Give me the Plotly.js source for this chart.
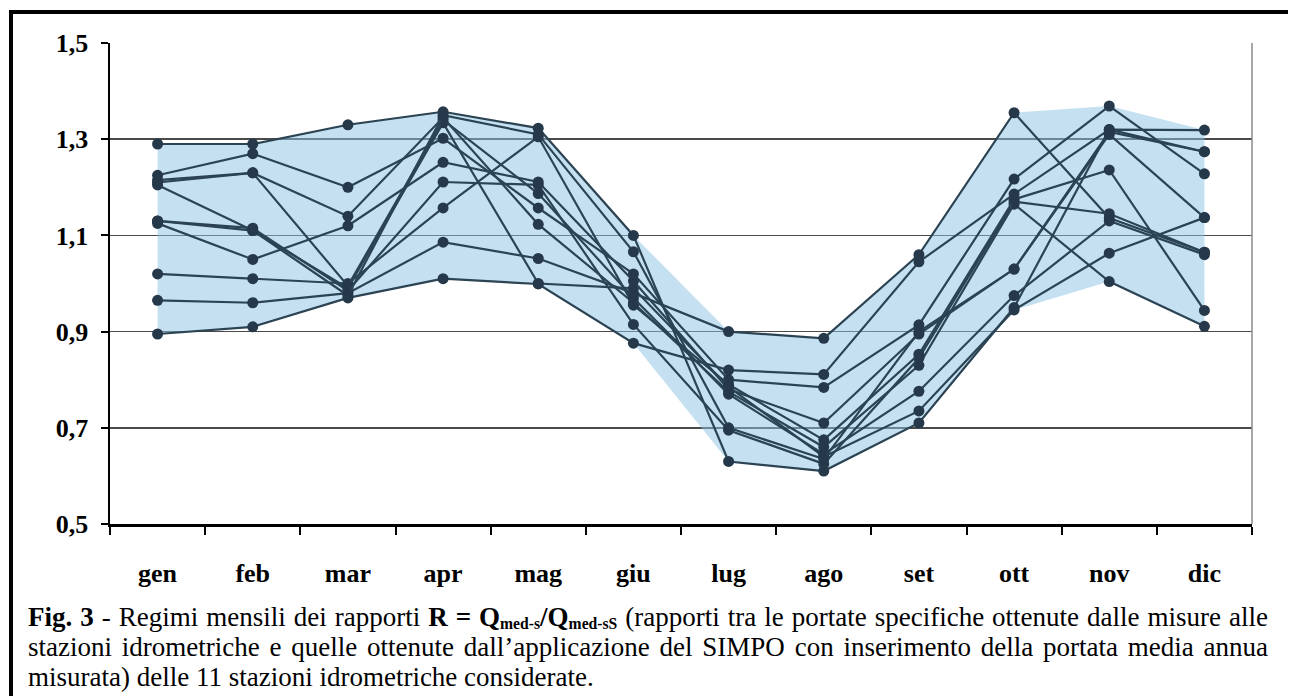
<!DOCTYPE html>
<html><head><meta charset="utf-8">
<script src="https://cdn.plot.ly/plotly-3.0.1.min.js"></script>
<style>
body{margin:0;background:#fff;width:1290px;height:696px;overflow:hidden;position:relative;font-family:"Liberation Serif","Times New Roman",serif;}
#chart{position:absolute;left:0;top:0;width:1290px;height:696px;}
#frame{position:absolute;left:9px;top:10px;width:1275px;height:700px;border-left:4px solid #000;border-top:4px solid #000;pointer-events:none;}
#cap{position:absolute;left:28px;top:602px;width:1240px;font-size:27px;line-height:30px;color:#000;}
#cap div{white-space:nowrap;}
#cap .j{text-align:justify;text-align-last:justify;}
sub{font-size:0.58em;line-height:0;vertical-align:-0.18em;}
</style></head><body>
<div id="chart"></div>
<div id="frame"></div>
<div id="cap">
<div class="j"><b>Fig. 3</b> - Regimi mensili dei rapporti <b>R = Q<sub>med-s</sub>/Q<sub>med-sS</sub></b> (rapporti tra le portate specifiche ottenute dalle misure alle</div>
<div class="j">stazioni idrometriche e quelle ottenute dall’applicazione del SIMPO con inserimento della portata media annua</div>
<div>misurata) delle 11 stazioni idrometriche considerate.</div>
</div>
<script>
const months = ['gen','feb','mar','apr','mag','giu','lug','ago','set','ott','nov','dic'];
const yTicks = [0.5,0.7,0.9,1.1,1.3,1.5];
const s1  = [1.290,1.290,1.330,1.357,1.323,1.100,0.630,0.610,0.710,0.950,1.320,1.274];
const s2  = [1.225,1.270,1.200,1.302,1.157,1.020,0.800,0.784,0.914,1.217,1.369,1.228];
const s3  = [1.215,1.230,1.140,1.345,1.123,0.960,0.775,0.660,0.830,1.165,1.004,0.911];
const s4  = [1.205,1.110,0.990,1.334,1.000,0.990,0.785,0.640,0.735,0.945,1.063,1.137];
const s5  = [1.130,1.115,0.985,1.211,1.205,0.915,0.695,0.625,0.845,1.170,1.145,1.065];
const s6  = [1.125,1.050,1.120,1.252,1.211,1.005,0.780,0.710,0.895,1.030,1.315,1.274];
const s7  = [1.020,1.010,1.000,1.157,1.305,0.955,0.790,0.675,0.853,1.175,1.236,0.944];
const s8  = [0.965,0.960,0.980,1.086,1.052,0.980,0.900,0.886,1.060,1.355,1.136,1.065];
const s9  = [0.895,0.910,0.970,1.010,0.999,0.876,0.820,0.811,1.045,1.186,1.320,1.319];
const s10 = [1.210,1.230,0.995,1.340,1.187,0.970,0.770,0.645,0.776,0.975,1.130,1.060];
const s11 = [1.130,1.110,0.975,1.350,1.310,1.066,0.700,0.635,0.900,1.030,1.310,1.137];
const series = [s1,s2,s3,s4,s5,s6,s7,s8,s9,s10,s11];

const minEnv = months.map((m,i)=>Math.min(...series.map(s=>s[i])));
const maxEnv = months.map((m,i)=>Math.max(...series.map(s=>s[i])));

const traces = [
  {x:months,y:minEnv,type:'scatter',mode:'lines',line:{width:0,color:'rgba(0,0,0,0)'},hoverinfo:'skip'},
  {x:months,y:maxEnv,type:'scatter',mode:'lines',fill:'tonexty',fillcolor:'rgba(140,195,228,0.5)',line:{width:0,color:'rgba(0,0,0,0)'},hoverinfo:'skip'}
];
series.forEach(s=>traces.push({x:months,y:s,type:'scatter',mode:'lines+markers',
  line:{color:'#2b4352',width:2.2},marker:{color:'#26394a',size:11}}));

const tickFont = {family:'Liberation Serif, Times New Roman, serif',size:26,color:'#000',weight:'bold'};
const layout = {
  width:1290,height:696,
  margin:{l:110,r:38,t:43,b:172,pad:0},
  paper_bgcolor:'rgba(0,0,0,0)',plot_bgcolor:'#ffffff',
  separators:',.',showlegend:false,
  font:{family:'Liberation Serif, Times New Roman, serif',size:26,color:'#000'},
  xaxis:{type:'category',categoryorder:'array',categoryarray:months,range:[-0.5,11.5],
    showline:true,linecolor:'#000',linewidth:2.5,ticks:'outside',tickson:'boundaries',
    ticklen:8,tickwidth:2,tickcolor:'#000',showgrid:false,zeroline:false,
    tickfont:tickFont,ticklabelstandoff:24,fixedrange:true},
  yaxis:{range:[0.5,1.5],tickvals:yTicks,tickformat:'.1f',
    showline:true,linecolor:'#000',linewidth:2.5,ticks:'outside',ticklen:7,tickwidth:2,tickcolor:'#000',
    showgrid:true,gridcolor:'#4a4a4a',gridwidth:1.5,zeroline:false,
    tickfont:tickFont,ticklabelstandoff:7,fixedrange:true},
  shapes:[{type:'line',xref:'paper',yref:'paper',x0:1,x1:1,y0:0,y1:1,line:{color:'#8a8a8a',width:1.5}}]
};
Plotly.newPlot('chart',traces,layout,{displayModeBar:false,staticPlot:true});
</script>
</body></html>
